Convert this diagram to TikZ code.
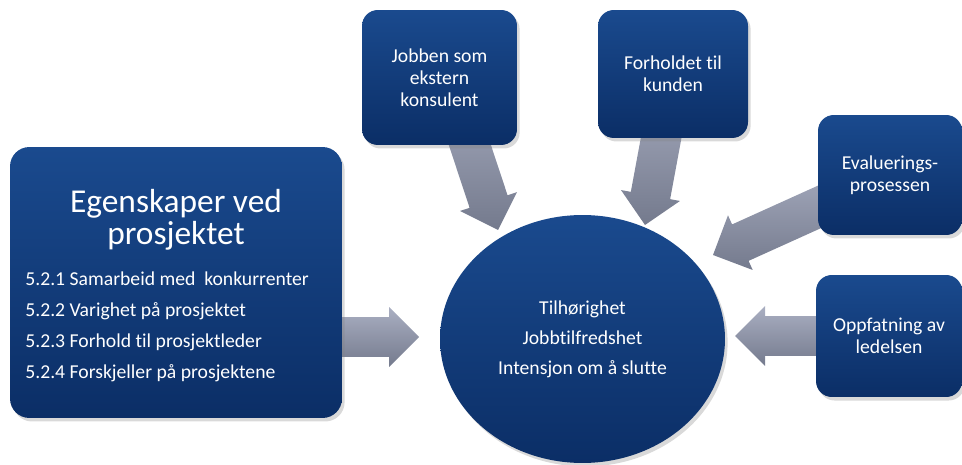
\documentclass[tikz,border=0pt]{standalone}
\usepackage{fontspec}
\setmainfont{Carlito}[Ligatures=NoCommon]
\usepackage{tikz}
\usetikzlibrary{shapes.geometric, calc, shadows}

\definecolor{boxtop}{RGB}{26, 74, 142}
\definecolor{boxbottom}{RGB}{11, 46, 102}
\definecolor{arrowtop}{RGB}{170, 175, 194}
\definecolor{arrowbottom}{RGB}{116, 122, 141}

\pgfdeclarelayer{bg}
\pgfsetlayers{bg,main}

\tikzset{
  bluebox/.style={rectangle, rounded corners=9pt, draw=none, top color=boxtop, bottom color=boxbottom,
    text=white, align=center, inner sep=4pt, font=\fontsize{11.2}{12.6}\selectfont,
    drop shadow={opacity=0.3, shadow xshift=1.5pt, shadow yshift=-2pt}},
  titletext/.style={text=white, align=center, inner sep=0pt, font=\fontsize{19}{18.2}\selectfont},
  itemtext/.style={text=white, align=left, inner sep=0pt, font=\fontsize{11.2}{17.6}\selectfont},
  arrowshade/.style={top color=arrowtop, bottom color=arrowbottom, draw=none}
}

% grey block arrow from #1 to #2
\newcommand{\blockarrow}[2]{%
  \coordinate (hb) at ($(#2)!0.6cm!(#1)$);
  \shade[arrowshade] ($(#1)!0.4cm!90:(#2)$) -- ($(hb)!0.4cm!90:(#2)$) -- ($(hb)!0.6cm!90:(#2)$)
    -- (#2) -- ($(hb)!0.6cm!-90:(#2)$) -- ($(hb)!0.4cm!-90:(#2)$) -- ($(#1)!0.4cm!-90:(#2)$) -- cycle;
}

\begin{document}
\begin{tikzpicture}[x=0.02cm, y=-0.02cm]
  \useasboundingbox (0,0) rectangle (962,465);

  % Project box
  \node[bluebox, rounded corners=11pt, minimum width=6.64cm, minimum height=5.42cm] (prop) at (176,282.5) {};
  \node[titletext] (proptitle) at (176,220) {Egenskaper ved\\prosjektet};
  \node[itemtext, anchor=west] (propitems) at (25,327) {
    5.2.1 Samarbeid med~ konkurrenter\\
    5.2.2 Varighet på prosjektet\\
    5.2.3 Forhold til prosjektleder\\
    5.2.4 Forskjeller på prosjektene
  };

  % Other factors
  \node[bluebox, minimum width=3.1cm, minimum height=2.7cm] (job) at (439.5,77.5) {Jobben som\\ekstern\\konsulent};
  \node[bluebox, minimum width=3cm, minimum height=2.56cm] (kunde) at (673,74) {Forholdet til\\kunden};
  \node[bluebox, minimum width=2.88cm, minimum height=2.4cm] (eval) at (890,175) {Evaluerings-\\prosessen};
  \node[bluebox, minimum width=2.92cm, minimum height=2.44cm] (ledelse) at (889,336) {Oppfatning av\\ledelsen};

  % Outcomes
  \node[bluebox, ellipse, inner sep=0pt, minimum width=5.7cm, minimum height=4.96cm,
    font=\fontsize{11.2}{17}\selectfont] (core) at (582.5,339) {Tilhørighet\\Jobbtilfredshet\\Intensjon om å slutte};

  % Arrows
  \coordinate (ptip) at (419,337);
  \coordinate (ptail) at (prop.center |- ptip);
  \coordinate (jtip) at (498,230);
  \coordinate (jtail) at ($(job.center)+(8,0)$);
  \coordinate (ktip) at (645,225);
  \coordinate (etip) at (713,255);
  \coordinate (ltip) at (735,336);
  \begin{pgfonlayer}{bg}
    \blockarrow{ptail}{ptip}
    \blockarrow{jtail}{jtip}
    \blockarrow{kunde.center}{ktip}
    \blockarrow{eval.center}{etip}
    \blockarrow{ledelse.center}{ltip}
  \end{pgfonlayer}
\end{tikzpicture}
\end{document}
